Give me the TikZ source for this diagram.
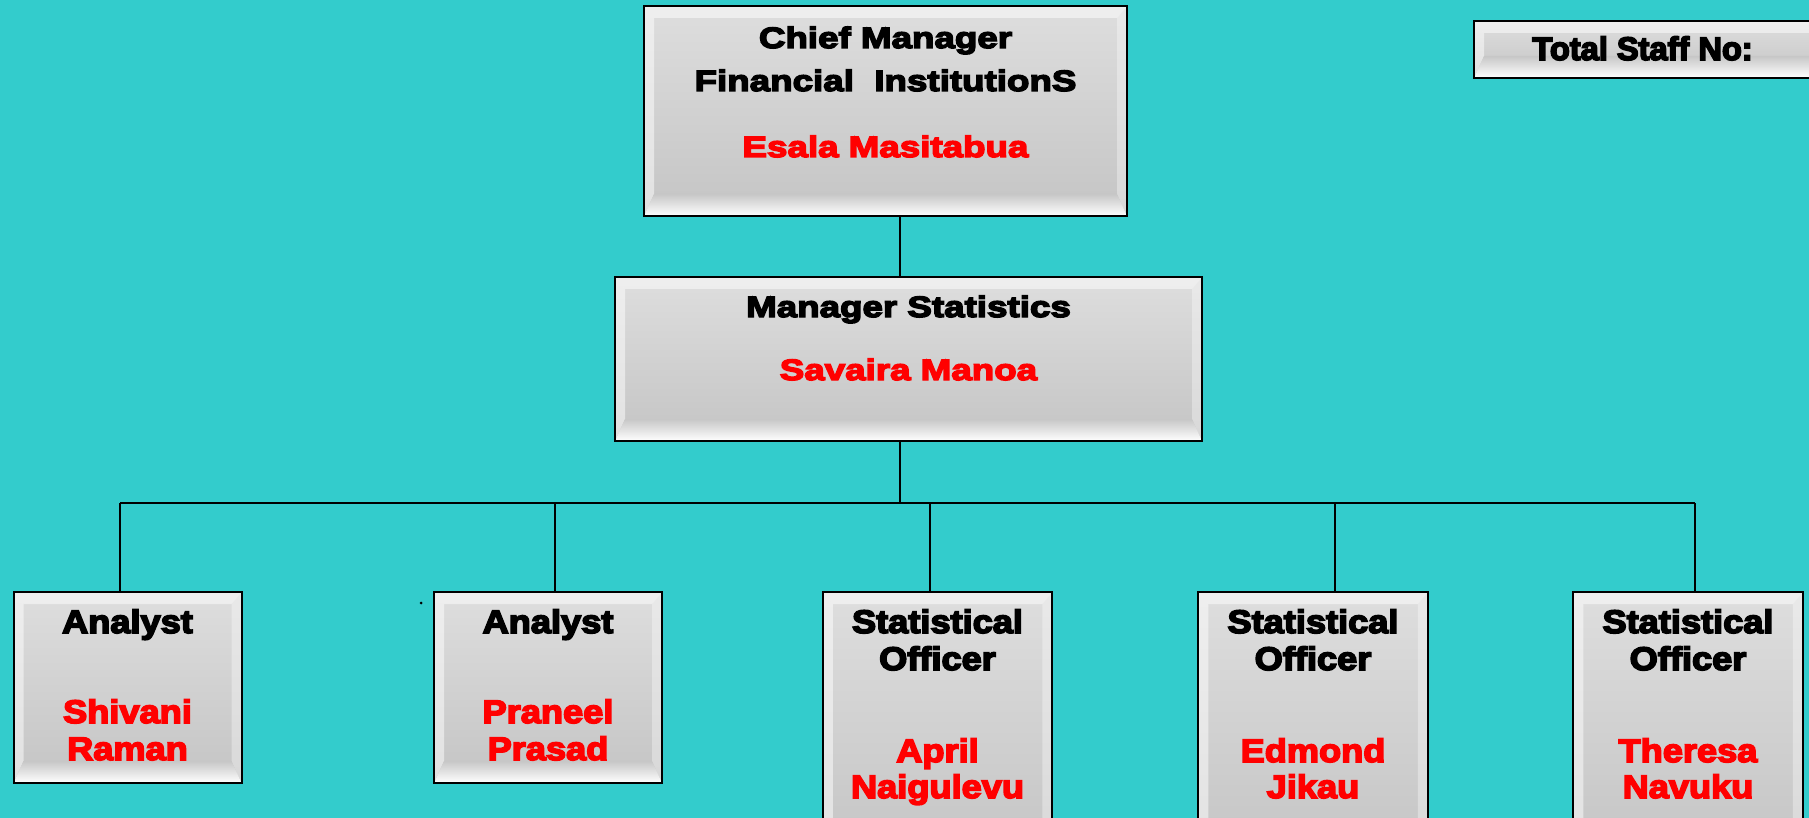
\documentclass[tikz,border=0pt]{standalone}
\usepackage{fontspec}
\usetikzlibrary{calc}
\setmainfont{Liberation Sans}
\newfontfamily\widesans{Liberation Sans Bold}[FakeStretch=1.25, FakeBold=5]
\newfontfamily\narrowsans{Liberation Sans Bold}[FakeStretch=1.11, FakeBold=5]
\newfontfamily\plainsans{Liberation Sans Bold}[FakeBold=5]
\definecolor{sea}{HTML}{33CCCC}
\definecolor{namered}{HTML}{FF0000}
\pgfdeclareverticalshading{bevel}{100bp}{color(0bp)=(white!76!black); color(25bp)=(white!77!black); color(100bp)=(white!92!black)}
\tikzset{
  panel/.style={draw=black, line width=1pt, shading=bevel, inner sep=0pt, path picture={
    \path (path picture bounding box.south west) coordinate (bl)
          (path picture bounding box.north east) coordinate (tr);
    \fill[white, opacity=.5] (bl |- tr) -- (tr) -- ($(tr)+(-5pt,-6pt)$) -- ($(bl |- tr)+(5pt,-6pt)$) -- cycle;
    \fill[white, opacity=.5] (bl) -- (bl |- tr) -- ($(bl |- tr)+(5pt,-6pt)$) -- ($(bl)+(5pt,11pt)$) -- cycle;
    \fill[white, opacity=.35] (tr) -- (tr |- bl) -- ($(tr |- bl)+(-5pt,11pt)$) -- ($(tr)+(-5pt,-6pt)$) -- cycle;
    \shade[top color=white!78!black, bottom color=white] (bl) -- ($(bl)+(5pt,11pt)$) -- ($(tr |- bl)+(-5pt,11pt)$) -- (tr |- bl) -- cycle;
  }},
  link/.style={line width=1.1pt},
  toptext/.style={font=\widesans\fontsize{14.7}{17}\selectfont, inner sep=0pt, anchor=base},
  lowtext/.style={font=\narrowsans\fontsize{16.3}{19}\selectfont, inner sep=0pt, anchor=base},
  stafftext/.style={font=\plainsans\fontsize{16.3}{19}\selectfont, inner sep=0pt, anchor=base west}
}
\begin{document}
\begin{tikzpicture}[x=0.5pt,y=-0.5pt]
\clip (0,0) rectangle (1809,818);
\fill[sea] (0,0) rectangle (1809,818);

\node[panel, minimum width=241.5pt, minimum height=105pt] (chief) at (885.5,111) {};
\node[toptext] (chief-a) at (885.5,48) {Chief Manager};
\node[toptext] (chief-b) at (885.5,91) {Financial\ \ InstitutionS};
\node[toptext, text=namered] (chief-c) at (885.5,157) {Esala Masitabua};

\node[panel, minimum width=293.5pt, minimum height=82pt] (mgr) at (908.5,359) {};
\node[toptext] (mgr-a) at (908.5,317) {Manager Statistics};
\node[toptext, text=namered] (mgr-b) at (908.5,380) {Savaira Manoa};

\node[panel, minimum width=213pt, minimum height=28.5pt] (staff) at (1687,49.5) {};
\node[stafftext] (staff-a) at (1532,60) {Total Staff No:};

\coordinate (trunk) at (900,503);
\draw[link] (chief.south -| trunk) -- (mgr.north -| trunk);
\draw[link] (mgr.south -| trunk) -- (trunk);

\foreach \n/\cx/\dx/\fa/\la in {a1/127.5/120/Shivani/Raman, a2/548/555/Praneel/Prasad} {
  \node[panel, minimum width=114pt, minimum height=95.5pt] (\n) at (\cx,687.5) {};
  \node[lowtext] (\n-title) at (\cx,633) {Analyst};
  \node[lowtext, text=namered] (\n-first) at (\cx,723) {\fa};
  \node[lowtext, text=namered] (\n-last) at (\cx,760) {\la};
  \coordinate (\n-drop) at (\dx,503);
  \draw[link] (\n-drop) -- (\n.north -| \n-drop);
}

\foreach \n/\cx/\dx/\fa/\la in {s1/937.5/930/April/Naigulevu, s2/1313/1335/Edmond/Jikau, s3/1688/1695/Theresa/Navuku} {
  \node[panel, minimum width=114.75pt, minimum height=134pt] (\n) at (\cx,726) {};
  \node[lowtext] (\n-title) at (\cx,633) {Statistical};
  \node[lowtext] (\n-role) at (\cx,670) {Officer};
  \node[lowtext, text=namered] (\n-first) at (\cx,762) {\fa};
  \node[lowtext, text=namered] (\n-last) at (\cx,798) {\la};
  \coordinate (\n-drop) at (\dx,503);
  \draw[link] (\n-drop) -- (\n.north -| \n-drop);
}

\draw[link] (a1-drop) -- (s3-drop);
\fill (421,603) circle (1.5);
\end{tikzpicture}
\end{document}
